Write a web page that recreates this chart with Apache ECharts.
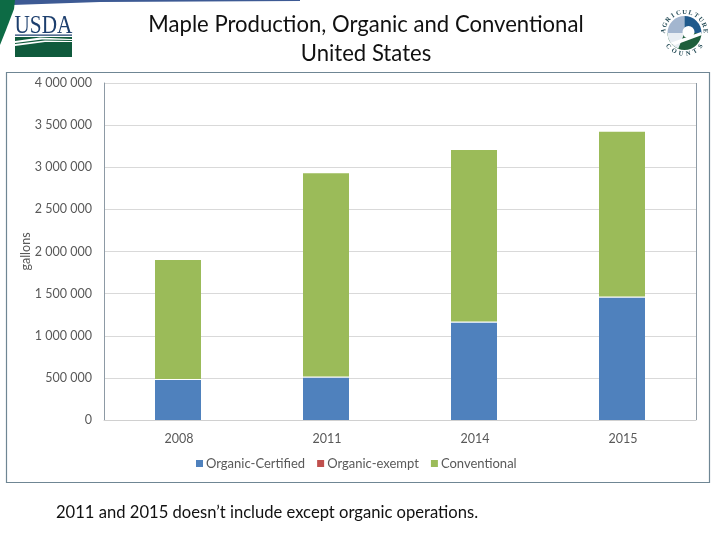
<!DOCTYPE html>
<html><head><meta charset="utf-8">
<style>html,body{margin:0;padding:0;background:#fff}#c{width:720px;height:540px}</style>
<script src="https://cdn.jsdelivr.net/npm/echarts@6/dist/echarts.min.js"></script>
</head><body><div id="c"></div>
<script>
const categories=['2008','2011','2014','2015'];
const organicCertified=[475000,505000,1157000,1455000];
const organicExempt=[12000,12000,12000,12000];
const conventional=[1413000,2413000,2036000,1953000];
const titleLines='Maple Production, Organic and Conventional\nUnited States';
const note='2011 and 2015 doesn’t include except organic operations.';
const font='Lato';
const chart=echarts.init(document.getElementById('c'),null,{renderer:'canvas'});
const labelColor='#595959';
const cx=684.5,cy=33;
const seal=[
 {type:'sector',shape:{cx,cy,r:17,r0:0,startAngle:Math.PI,endAngle:Math.PI*1.5},style:{fill:'#a3b6cf'}},
 {type:'sector',shape:{cx,cy,r:17,r0:0,startAngle:Math.PI*1.5,endAngle:Math.PI*2},style:{fill:'#1f5a8c'}},
 {type:'sector',shape:{cx,cy,r:17,r0:0,startAngle:0,endAngle:Math.PI},style:{fill:'#1f5f3c'}},
 {type:'sector',shape:{cx,cy,r:17,r0:0,startAngle:Math.PI*0.62,endAngle:Math.PI},style:{fill:'#e9eef3'}},
 {type:'circle',shape:{cx:cx+4,cy:cy-1,r:6},style:{fill:'#fff'}},
 {type:'polygon',shape:{points:[[670,43],[701,32],[702,35],[675,45]]},style:{fill:'#fff'}}
];
const arcText=(s,r,a0,a1,size,flip)=>[...s].map((ch,i)=>{
  const a=a0+(a1-a0)*i/(s.length-1);
  return {type:'text',x:cx+r*Math.cos(a),y:cy+r*Math.sin(a),
    rotation:flip?-(a-Math.PI/2):-(a+Math.PI/2),
    style:{text:ch,font:`bold ${size}px "Liberation Serif"`,fill:'#234a55',align:'center',verticalAlign:'middle'}};
});
chart.setOption({
 animation:false,
 backgroundColor:'#fff',
 grid:{left:104,right:24,top:83,bottom:120,show:false},
 legend:{top:457,left:196,padding:0,itemWidth:7,itemHeight:7,itemGap:12,icon:'rect',
  textStyle:{fontFamily:font,fontSize:13,color:labelColor,padding:[0,0,0,-2]},
  data:[{name:'Organic-Certified',itemStyle:{color:'#4f81bd'}},{name:'Organic-exempt',itemStyle:{color:'#c0504d'}},{name:'Conventional',itemStyle:{color:'#9bbb59'}}]},
 xAxis:{type:'category',data:categories,axisTick:{show:false},
  axisLine:{lineStyle:{color:'#d0d0d0'}},
  axisLabel:{color:labelColor,fontFamily:font,fontSize:12.5,margin:12,padding:[0,0,0,2]}},
 yAxis:{type:'value',min:0,max:4000000,interval:500000,
  axisLine:{show:true,lineStyle:{color:'#8d9aa5'}},axisTick:{show:false},
  splitLine:{lineStyle:{color:'#d9d9d9'}},
  name:'gallons',nameLocation:'middle',nameGap:72,nameRotate:90,nameMoveOverlap:false,
  nameTextStyle:{color:labelColor,fontFamily:font,fontSize:12.5},
  axisLabel:{color:labelColor,fontFamily:font,fontSize:12.5,margin:12,padding:[4,0,0,0],
   formatter:v=>String(v).replace(/\B(?=(\d{3})+$)/g,' ')}},
 series:[
  {name:'Organic-Certified',type:'bar',stack:'t',barWidth:46,data:organicCertified,itemStyle:{color:'#4f81bd'}},
  {name:'Organic-exempt',type:'bar',stack:'t',barWidth:46,data:organicExempt,itemStyle:{color:'#fff'}},
  {name:'Conventional',type:'bar',stack:'t',barWidth:46,data:conventional,itemStyle:{color:'#9bbb59'}}
 ],
 graphic:[
  {type:'rect',silent:true,shape:{x:6.5,y:72.5,width:703,height:410},style:{fill:'none',stroke:'#6f8694',lineWidth:1.2}},
  {type:'line',silent:true,shape:{x1:696.5,y1:83,x2:696.5,y2:420},style:{stroke:'#8d9aa5',lineWidth:1}},
  {type:'polygon',shape:{points:[[10,0],[300,0],[300,1],[100,2],[12,5]]},style:{fill:'#3d5a94'}},
  {type:'polygon',shape:{points:[[0,0],[15,0],[14,9],[6,30],[0,45]]},style:{fill:'#0d6b45'}},
  {type:'text',x:14.5,y:14,scaleX:0.85,style:{text:'USDA',font:'25px "Liberation Serif"',fill:'#1d3f6e'}},
  {type:'rect',shape:{x:15,y:34.5,width:57,height:1.2},style:{fill:'#1d3f6e'}},
  {type:'rect',shape:{x:15,y:37,width:57,height:20},style:{fill:'#0f5a3c'}},
  {type:'polygon',shape:{points:[[15,41],[40,37.5],[72,39],[72,40],[42,39.5],[15,43]]},style:{fill:'#fff'}},
  {type:'polygon',shape:{points:[[15,44],[45,40.5],[72,41],[72,42],[45,42],[15,46]]},style:{fill:'#fff'}},
  {type:'text',x:366,y:11,style:{text:titleLines,font:'22.1px '+font,fill:'#111',align:'center',lineHeight:28.5}},
  {type:'text',x:56,y:504,style:{text:note,font:'16.6px '+font,fill:'#111'}},
  ...seal,
  ...arcText('AGRICULTURE',21,Math.PI*1.03,Math.PI*1.97,6.5,false),
  ...arcText('COUNTS',21,Math.PI*0.78,Math.PI*0.22,6.5,true)
 ]
});
</script></body></html>
